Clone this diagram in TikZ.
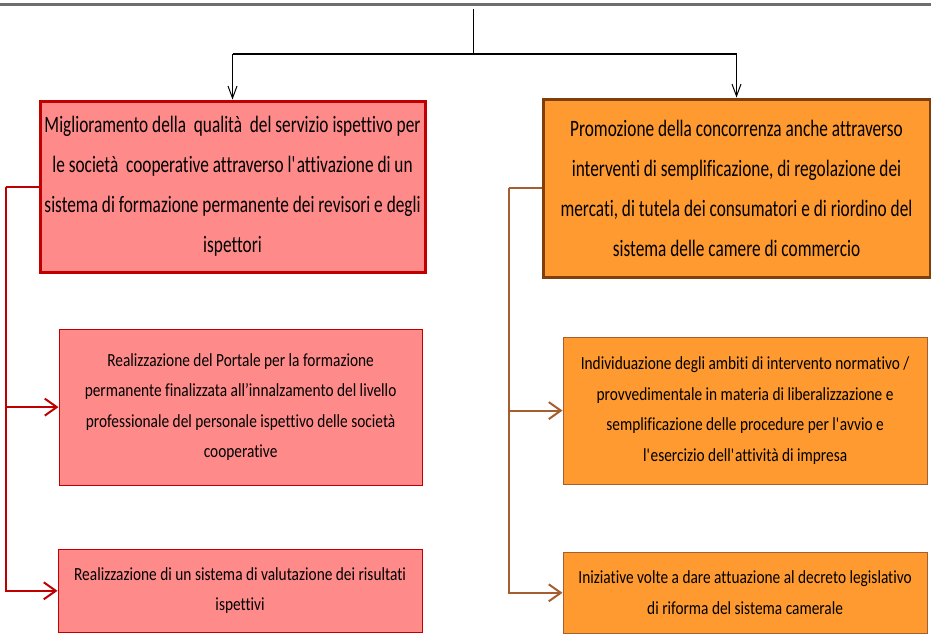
\documentclass[tikz,border=0pt]{standalone}
\usepackage{fontspec}
\setmainfont{Carlito}
\newfontfamily\mainbox[FakeStretch=0.735, Ligatures={TeX,CommonOff}]{Carlito}
\newfontfamily\subbox[FakeStretch=0.83, Ligatures={TeX,CommonOff}]{Carlito}
\usetikzlibrary{positioning, arrows.meta}
\definecolor{redfill}{HTML}{FF8A8A}
\definecolor{redline}{HTML}{C00000}
\definecolor{orangefill}{HTML}{FF9A30}
\definecolor{brownline}{HTML}{7F3F0A}
\definecolor{brownsub}{HTML}{A65E2E}
\definecolor{topgray}{HTML}{6E6E6E}

\begin{document}
\begin{tikzpicture}[x=1pt, y=-1pt, thick,
        goal/.style={rectangle, draw, line width=3pt, inner sep=0pt, align=center,
            font=\mainbox\fontsize{23.5}{40}\selectfont},
        act/.style={rectangle, draw, line width=1.2pt, inner sep=0pt, align=center,
            font=\subbox\fontsize{18.5}{30.5}\selectfont},
        barb/.style={-{Straight Barb[length=12pt, width=#1]}},
        barb/.default=17pt]
        \useasboundingbox (0,0) rectangle (931,633);
        \draw[topgray, line width=2.5pt] (0,4.5) -- (931,4.5);

        \node[goal, draw=redline, fill=redfill, minimum width=385pt, minimum height=171pt]
            (goalA) at (232.5,186.5) {Miglioramento della\ \ qualità\ \ del servizio ispettivo per\\
            le società\ \ cooperative attraverso l\textquotesingle attivazione di un\\
            sistema di formazione permanente dei revisori e degli\\ ispettori};
        \node[goal, draw=brownline, fill=orangefill, minimum width=387pt, minimum height=178pt]
            (goalB) at (736.5,188) {Promozione della concorrenza anche attraverso\\
            interventi di semplificazione, di regolazione dei\\
            mercati, di tutela dei consumatori e di riordino del\\
            sistema delle camere di commercio};

        \node[act, draw=redline, fill=redfill, minimum width=363pt, minimum height=156pt]
            (actA1) [below=55pt of goalA.south west, anchor=north west, xshift=20pt]
            {Realizzazione del Portale per la formazione\\
            permanente finalizzata all’innalzamento del livello\\
            professionale del personale ispettivo delle società\\ cooperative};
        \node[act, draw=redline, fill=redfill, minimum width=364pt, minimum height=83pt]
            (actA2) [below=63pt of actA1.south west, anchor=north west, xshift=-1pt]
            {Realizzazione di un sistema di valutazione dei risultati\\ ispettivi};
        \node[act, draw=brownsub, fill=orangefill, minimum width=364pt, minimum height=147pt]
            (actB1) [below=58pt of goalB.south west, anchor=north west, xshift=21pt]
            {Individuazione\ degli ambiti di intervento normativo /\\
            provvedimentale in materia di liberalizzazione e\\
            semplificazione delle procedure per l\textquotesingle avvio e\\
            l\textquotesingle esercizio dell\textquotesingle attività di impresa};
        \node[act, draw=brownsub, fill=orangefill, minimum width=364pt, minimum height=81pt]
            (actB2) [below=67pt of actB1.south west, anchor=north west]
            {Iniziative volte a dare attuazione al decreto legislativo\\ di riforma del sistema camerale};

        \coordinate (top) at (473,9);
        \coordinate (fork) at (473,54);
        \coordinate[left=33pt of goalA.west] (spineA);
        \coordinate[left=33pt of goalB.west] (spineB);

        \draw[line width=0.8pt] (top) -- (fork);
        \draw[line width=1.5pt] (goalA.north |- fork) -- (goalB.north |- fork);
        \draw[line width=1pt, barb=9pt] (goalA.north |- fork) -- (goalA.north);
        \draw[line width=1pt, barb=9pt] (goalB.north |- fork) -- (goalB.north);

        \draw[redline, line width=2pt] (goalA.west) -- (spineA);
        \draw[redline, line width=2pt, barb] (spineA) |- (actA1.west);
        \draw[redline, line width=2pt, barb] (spineA) |- (actA2.west);
        \draw[brownsub, line width=2pt] (goalB.west) -- (spineB);
        \draw[brownsub, line width=2pt, barb] (spineB) |- (actB1.west);
        \draw[brownsub, line width=2pt, barb] (spineB) |- (actB2.west);
\end{tikzpicture}
\end{document}
